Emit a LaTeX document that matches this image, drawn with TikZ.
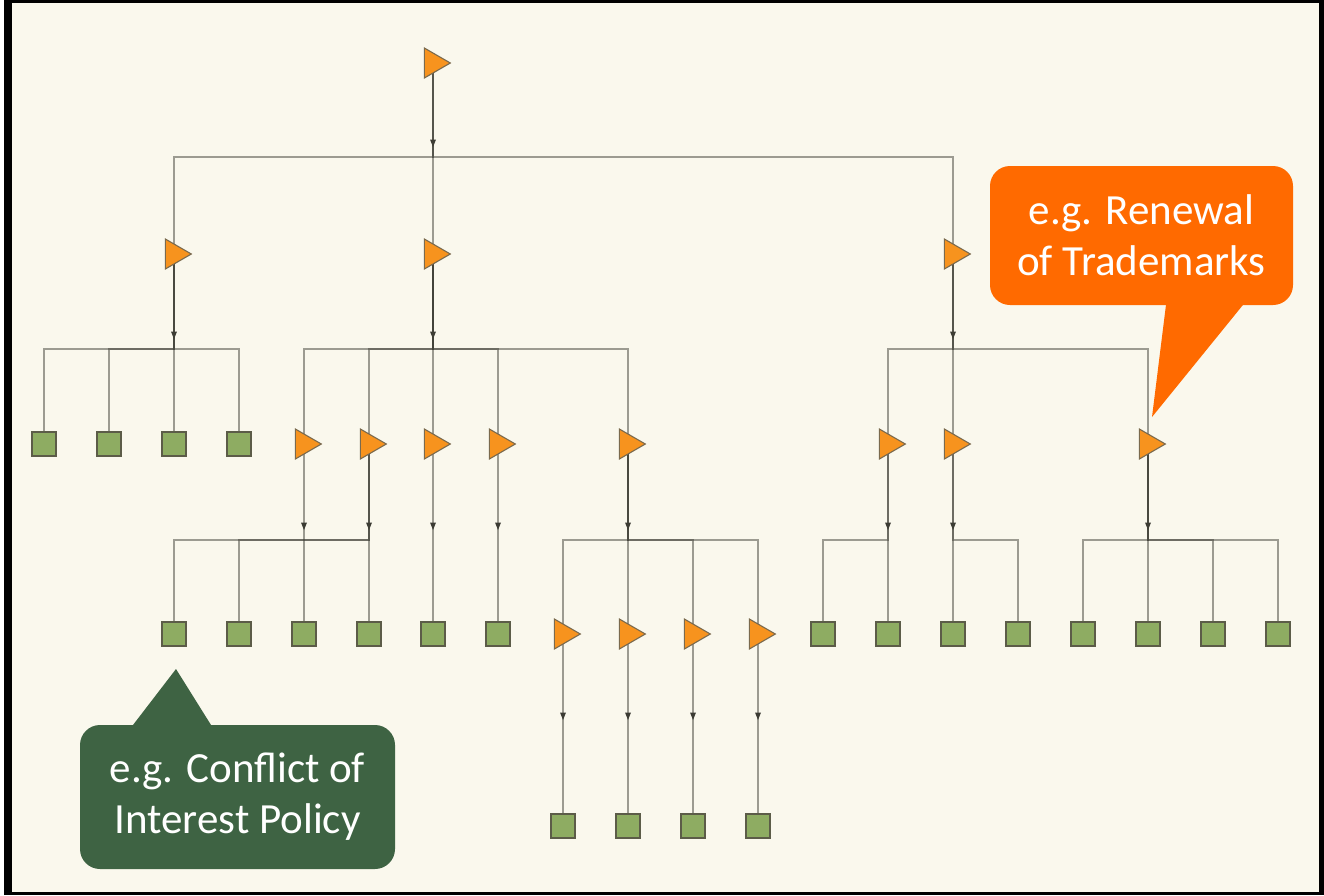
\documentclass[tikz,border=0pt]{standalone}
\usepackage{fontspec}
\setmainfont{Carlito}
\usetikzlibrary{shapes.geometric,backgrounds,decorations.markings}
\definecolor{bgc}{HTML}{FAF8ED}
\definecolor{linec}{HTML}{3F3F36}
\definecolor{arrc}{HTML}{3A3A32}
\definecolor{trif}{HTML}{F7931E}
\definecolor{trid}{HTML}{7A6A4E}
\definecolor{sqf}{HTML}{8EAC62}
\definecolor{sqd}{HTML}{5C5C48}
\definecolor{ocol}{HTML}{FF6A00}
\definecolor{gcol}{HTML}{3E6343}
\tikzset{
  tri/.style={regular polygon, regular polygon sides=3, shape border rotate=-90,
    minimum size=34.6pt, inner sep=0pt, outer sep=0pt, fill=trif, draw=trid, line width=1.1pt},
  sq/.style={rectangle, minimum size=24pt, inner sep=0pt, outer sep=0pt,
    fill=sqf, draw=sqd, line width=1.3pt},
  link/.style={draw=linec, draw opacity=0.5, line width=1.6pt},
  arrowmark/.style={postaction={decorate}, decoration={markings,
    mark=at position -10pt with {\fill[arrc] (0pt,0pt) -- (-7.5pt,3pt) -- (-7.5pt,-3pt) -- cycle;}}},
  callbox/.style={rectangle, rounded corners=20pt, text=white, align=center,
    inner sep=0pt, font=\fontsize{43}{51}\selectfont},
}
\newcommand\mktree[3]{%
  \coordinate (#1j) at (#1 |- 0,#2);
  \path[arrowmark] (#1) -- (#1j);
  \foreach \cc in {#3}{\draw[link] (#1) -- (#1j) -| (\cc);}%
}
\begin{document}
\begin{tikzpicture}[x=1pt,y=-1pt]
\useasboundingbox (0,0) rectangle (1324,895);
% nodes
\node[tri] (t0) at (433,63) {};
\node[tri] (a) at (174,254) {};
\node[tri] (b) at (433,254) {};
\node[tri] (c) at (953,254) {};
\node[sq] (s1) at (44,444) {};
\node[sq] (s2) at (109,444) {};
\node[sq] (s3) at (174,444) {};
\node[sq] (s4) at (239,444) {};
\node[tri] (b1) at (304,444) {};
\node[tri] (b2) at (369,444) {};
\node[tri] (b3) at (433,444) {};
\node[tri] (b4) at (498,444) {};
\node[tri] (b5) at (628,444) {};
\node[tri] (c1) at (888,444) {};
\node[tri] (c2) at (953,444) {};
\node[tri] (c3) at (1148,444) {};
\node[sq] (q1) at (174,634) {};
\node[sq] (q2) at (239,634) {};
\node[sq] (q3) at (304,634) {};
\node[sq] (q4) at (369,634) {};
\node[sq] (q5) at (433,634) {};
\node[sq] (q6) at (498,634) {};
\node[tri] (r1) at (563,634) {};
\node[tri] (r2) at (628,634) {};
\node[tri] (r3) at (693,634) {};
\node[tri] (r4) at (758,634) {};
\node[sq] (q7) at (823,634) {};
\node[sq] (q8) at (888,634) {};
\node[sq] (q9) at (953,634) {};
\node[sq] (q10) at (1018,634) {};
\node[sq] (q11) at (1083,634) {};
\node[sq] (q12) at (1148,634) {};
\node[sq] (q13) at (1213,634) {};
\node[sq] (q14) at (1278,634) {};
\node[sq] (u1) at (563,826) {};
\node[sq] (u2) at (628,826) {};
\node[sq] (u3) at (693,826) {};
\node[sq] (u4) at (758,826) {};
% frame and connectors
\begin{scope}[on background layer]
  \fill[white] (0,0) rectangle (1324,895);
  \fill[black] (4,0) rectangle (1324,895);
  \fill[bgc] (12,3) rectangle (1319,892);
  \mktree{t0}{157}{a,b,c}
  \mktree{a}{349}{s1,s2,s3,s4}
  \mktree{b}{349}{b1,b2,b3,b4,b5}
  \mktree{c}{349}{c1,c2,c3}
  \mktree{b1}{540}{q3}
  \mktree{b2}{540}{q1,q2,q4}
  \mktree{b3}{540}{q5}
  \mktree{b4}{540}{q6}
  \mktree{b5}{540}{r1,r2,r3,r4}
  \mktree{c1}{540}{q7,q8}
  \mktree{c2}{540}{q9,q10}
  \mktree{c3}{540}{q11,q12,q13,q14}
  \mktree{r1}{730}{u1}
  \mktree{r2}{730}{u2}
  \mktree{r3}{730}{u3}
  \mktree{r4}{730}{u4}
\end{scope}
% callouts
\coordinate (otip) at (1152,417);
\fill[ocol] (1167.2,295) -- (otip) -- (1251,295) -- cycle;
\node[callbox, fill=ocol, minimum width=303pt, minimum height=139pt] (ocall) at (1141.5,235.5) {e.g. Renewal\\of Trademarks};
\coordinate (gtip) at (176,669);
\fill[gcol] (125.3,735) -- (gtip) -- (217.3,735) -- cycle;
\node[callbox, fill=gcol, minimum width=315pt, minimum height=144pt] (gcall) at (237.5,797) {e.g. Conflict of\\Interest Policy};
\end{tikzpicture}
\end{document}
